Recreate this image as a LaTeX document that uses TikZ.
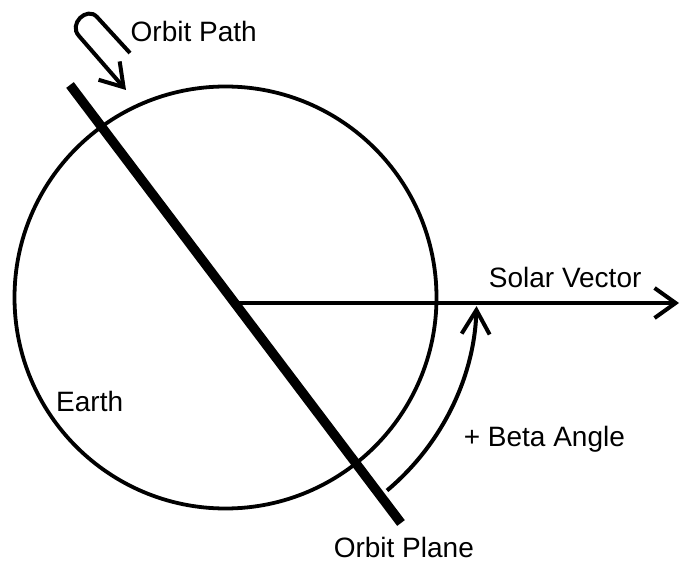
\documentclass[tikz,border=0pt]{standalone}
\usepackage{fontspec}
\setmainfont{Liberation Sans}
\usetikzlibrary{arrows.meta}
\begin{document}
\begin{tikzpicture}[x=1pt,y=-1pt,
  lbl/.style={anchor=base west, inner sep=0pt, font=\fontsize{28}{32}\selectfont},
  barb/.style={-{Straight Barb[length=21pt,width=30pt]}},
  thinline/.style={line width=4pt},
  planeline/.style={line width=9.5pt}]
\useasboundingbox (0,0) rectangle (682,561);
% Earth
\node[circle, draw, line width=3.8pt, minimum size=422pt, inner sep=0pt] (earth) at (225.5,297.5) {};
% orbit plane
\coordinate (pA) at (70,85);
\coordinate (pB) at (401,523);
\draw[planeline] (pA) -- (pB);
% solar vector
\coordinate (sv0) at (237,303);
\coordinate (sv1) at (679,303);
\draw[thinline, barb] (sv0) -- (sv1);
% beta angle arc
\coordinate (b0) at (387.0,490.5);
\draw[thinline, -{Straight Barb[length=24pt,width=28pt]}] (b0) arc[start angle=50, end angle=1.8, radius=251];
% orbit path hook
\coordinate (o0) at (130,53);
\coordinate (o1) at (97,17);
\coordinate (o2) at (79,36);
\coordinate (o3) at (126,90);
\draw[thinline, -{Straight Barb[length=22pt,width=28pt]}] (o0) -- (o1) .. controls (87,6) and (68,24) .. (o2) -- (o3);
% labels
\node[lbl] (tpath) at (130.5,42) {Orbit Path};
\node[lbl] (tsolar) at (488.7,287) {Solar Vector};
\node[lbl] (tearth) at (56,411) {Earth};
\node[lbl] (tbeta) at (463.6,446) {+ Beta Angle};
\node[lbl] (tplane) at (333.6,557) {Orbit Plane};
\end{tikzpicture}
\end{document}
